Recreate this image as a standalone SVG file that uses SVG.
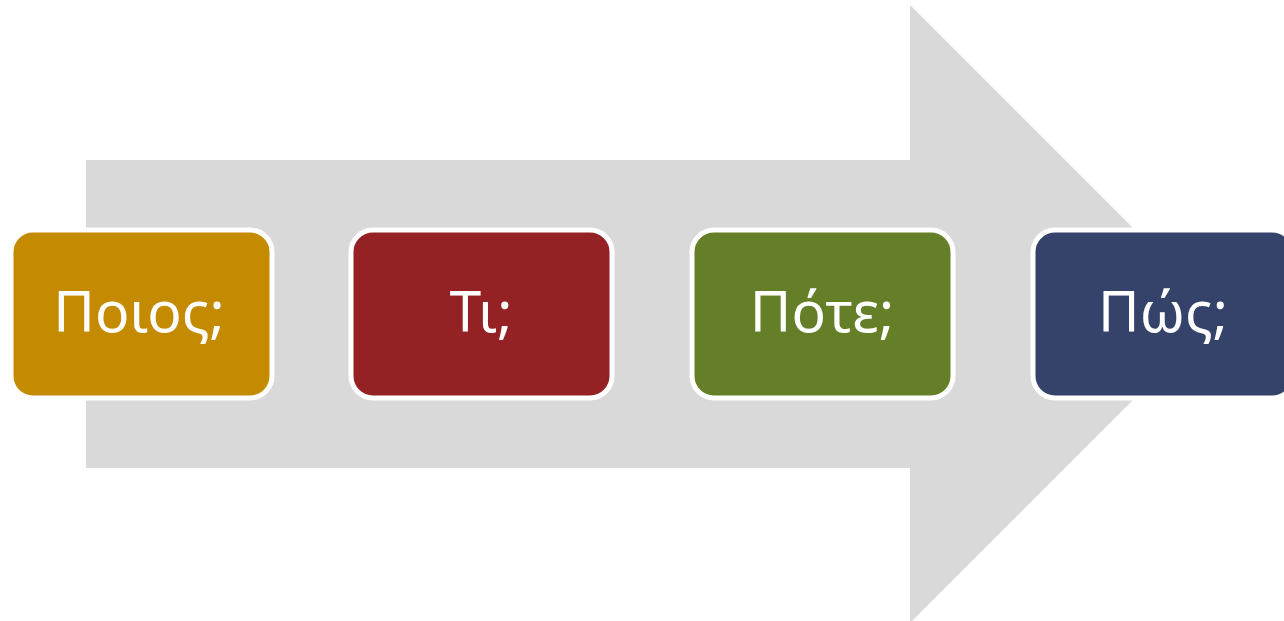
<svg xmlns="http://www.w3.org/2000/svg" width="1284" height="621" viewBox="0 0 1284 621">
<style>
.box{stroke:#fff;stroke-width:5}
.lbl{font-family:"Noto Sans","Open Sans",sans-serif;font-weight:400;font-size:57px;fill:#fff;text-anchor:middle}
</style>
<rect width="1284" height="621" fill="#fff"/>
<g id="arrow">
<polygon points="86,160 910,160 910,5 1219,314 910,623 910,468 86,468" fill="#D9D9D9"/>
</g>
<g id="connectors"></g>
<g id="node1">
<rect class="box" x="11" y="230" width="261" height="168" rx="22" fill="#C48B00"/>
<text class="lbl" x="139" y="332">Ποιος;</text>
</g>
<g id="node2">
<rect class="box" x="351" y="230" width="261" height="168" rx="22" fill="#942124"/>
<text class="lbl" x="481" y="332">Τι;</text>
</g>
<g id="node3">
<rect class="box" x="692" y="230" width="261" height="168" rx="22" fill="#647F27"/>
<text class="lbl" x="822" y="332">Πότε;</text>
</g>
<g id="node4">
<rect class="box" x="1033" y="230" width="261" height="168" rx="22" fill="#35436B"/>
<text class="lbl" x="1163" y="332">Πώς;</text>
</g>
</svg>
